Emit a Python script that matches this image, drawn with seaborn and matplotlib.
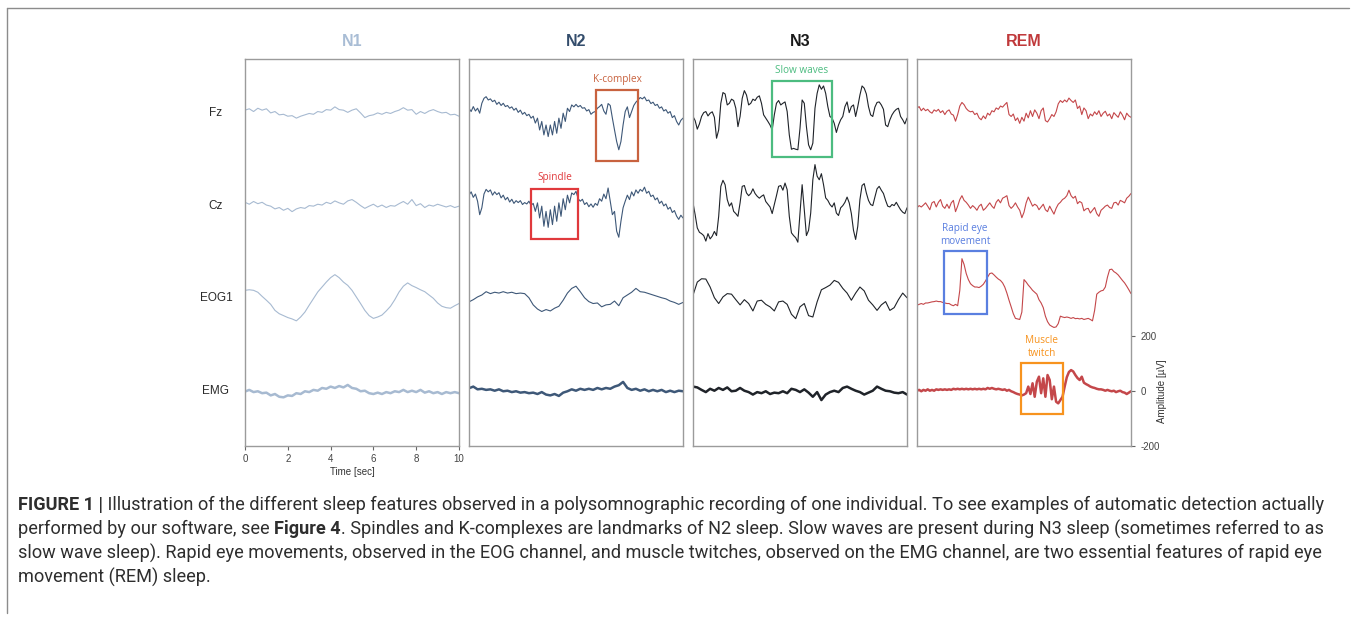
import numpy as np
import matplotlib
matplotlib.use("Agg")
import matplotlib.pyplot as plt
from matplotlib.patches import Rectangle
from matplotlib.lines import Line2D
import seaborn as sns

# Stages, channels and axis ticks
stages = ["N1", "N2", "N3", "REM"]
channels = ["Fz", "Cz", "EOG1", "EMG"]
offsets = [1011, 674, 337, 0]          # baseline of each channel (µV)
time_ticks = [0, 2, 4, 6, 8, 10]
amp_ticks = [-200, 0, 200]

# Traces, µV around each channel baseline (0-10 s)
n1_fz = [10, 15, 5, 17, 10, 15, 0, 5, -7, -5, -12, -10, -19, -12, -7, -2, -5, 5, 2, 12,
         10, 22, 12, 10, 2, 10, 15, 0, -17, -10, -7, 0, -5, 2, -2, 5, 10, 19, 10, 12,
         -5, 5, -2, 7, 12, 5, 0, 2, -7, -5, -12]
n1_cz = [12, 5, 15, 7, 12, 2, -2, -12, -7, -17, -10, -22, -12, -7, -10, 0, -2, 5, 2, 12,
         7, 17, 10, 5, 17, 22, 12, 0, -10, -2, 5, -5, 2, -7, 0, -2, 7, 15, 5, 22,
         0, 7, -7, 2, -2, 5, 0, -5, 0, -7, -2]
n1_eog = [29, 31, 29, 22, 7, -7, -22, -44, -56, -63, -70, -75, -82, -68, -50, -25, -1, 23, 41, 59,
          75, 86, 75, 59, 47, 29, 5, -19, -44, -63, -73, -68, -61, -46, -29, -5, 23, 44, 56, 46,
          39, 31, 24, 12, 0, -17, -29, -34, -36, -27, -19]
n1_emg = [-2, 4, -4, -1, -8, -6, -16, -11, -21, -23, -16, -18, -8, -11, -1, -4, 4, 1, 11, 8,
          16, 11, 18, 13, 22, 11, 8, -1, 1, -8, -11, -6, -11, -4, -8, -1, -4, 4, -4, 1,
          -4, 4, -6, -1, -8, -4, -11, -4, -8, -4, -8]

n2_fz = [17, 5, 23, 7, 17, -1, 35, 53, 59, 47, 51, 41, 46, 31, 39, 27, 35, 23, 27, 17,
         22, 10, 17, 2, 10, -5, 2, -10, -5, -19, -12, -37, -19, -62, -31, -80, -44, -86, -44, -80,
         -31, -74, -19, -56, -1, -31, 17, 5, 29, 22, 31, 22, 27, 17, 19, 7, 12, -5, 2, 5,
         17, 23, 31, 7, -5, 34, 27, -19, -62, -104, -134, -104, -44, 5, 22, -17, 5, 27, 39, 47,
         56, 51, 58, 44, 47, 34, 39, 27, 31, 17, 22, 7, 12, -1, 5, -17, -10, -31, -44, -27, -19]
n2_cz = [38, 50, 30, 42, 16, -33, -8, 42, 59, 50, 57, 38, 50, 40, 47, 28, 38, 21, 30, 13,
         23, 8, 18, 11, 18, 4, 11, 6, 16, 1, 8, -21, 10, -45, -2, -75, -21, -79, -15, -69,
         -2, -57, 10, -39, 25, -15, 38, 10, 46, 40, 52, 25, 16, 23, 4, 11, -4, 6, -6, 8,
         1, 25, 16, 42, 25, 64, 16, -33, -21, -93, -115, -57, -8, 16, 38, 22, 50, 35, 57, 45,
         59, 52, 67, 45, 52, 33, 38, 21, 28, 8, 16, -1, 6, -13, -6, -25, -18, -38, -50, -35, -45]
n2_eog = [-13, -5, 5, 12, 24, 17, 22, 19, 24, 19, 22, 17, 19, 17, 2, -24, -39, -48, -41, -46,
          -36, -29, -7, 19, 36, 44, 24, 2, -12, -19, -17, -31, -24, -22, -10, -27, 2, 12, 22, 36,
          24, 22, 17, 12, 7, 2, -2, -10, -15, -22, -15]
n2_emg = [10, 16, 6, 8, 4, 6, 1, 6, -1, 1, -4, -1, -6, -4, -8, -6, -11, -4, -13, -16,
          -11, -18, -6, -1, 6, 1, 8, 4, 8, 4, 11, 6, 11, 8, 16, 21, 33, 11, 4, 8,
          1, 6, -1, 4, -1, 4, -4, 1, -4, 1, -1]

n3_fz = [-13, -28, -59, -40, -13, 1, 5, -11, -1, 4, -16, -92, -62, 35, 74, 69, 29, 35, 50, 45,
         17, -50, -13, 53, 81, 65, 29, 35, 50, 45, 57, 62, 35, -7, -19, -31, -44, -62, -7, 35,
         45, 29, 35, 40, 5, -80, -132, -129, -132, -134, -56, 47, 35, -50, -116, -134, -110, 17, 71, 102,
         86, 98, 71, 23, -13, -19, -38, -71, -44, -25, -13, 23, 40, 1, 23, 29, -13, 23, 65, 98,
         90, 69, 23, -7, -13, 21, 38, 40, 29, 13, -44, -50, -25, -7, 5, 13, 17, -13, -25, -40, -19]
n3_cz = [10, -33, -81, -97, -102, -109, -129, -102, -121, -111, -94, -109, -39, 70, 92, 76, 22, -2, 10, -21,
         -29, -39, 10, 70, 73, 46, 36, 44, 61, 44, 34, 27, 34, 39, 15, 5, -5, -29, 4, 36,
         70, 73, 56, 82, 58, -39, -99, -109, -117, -133, -27, 76, -15, -109, -90, -27, 94, 149, 107, 94,
         116, 76, 28, 19, 4, -5, 10, -27, -36, -8, 0, 12, 31, 10, -29, -90, -123, -75, 22, 73,
         80, 46, 19, 4, 0, 31, 61, 70, 56, 44, 19, -2, -5, 4, 0, 12, -2, -15, -24, -29, -8]
n3_eog = [11, 59, 71, 70, 41, 2, -19, 5, 17, 15, -5, -24, -5, -19, -46, -10, -7, -22, -31, -46,
          -13, -10, -22, -58, -74, -31, -19, -63, -68, -13, 31, 39, 48, 65, 58, 36, 19, -7, 19, 41,
          27, -7, -24, -44, -24, -12, -44, -34, -5, 19, 2]
n3_emg = [16, 13, 4, -4, 8, 1, 11, 4, 13, -1, 1, 11, 1, -4, -13, -4, -8, -1, -11, -6,
          -8, -1, -8, 8, 4, -4, 6, -6, -21, -4, -33, -13, -4, 1, -4, 11, 16, 8, 1, -4,
          -13, -6, 1, 16, 8, 1, -1, -6, -8, -4, -13]

rem_fz = [17, 23, 8, 17, 8, 13, 4, -1, 11, 6, 13, 1, 8, -6, 6, 11, -4, -8, -30, -6,
          25, 38, 30, 16, 8, 4, 6, -6, -1, -18, -25, -11, -21, -1, -8, 8, 4, 18, 13, 25,
          21, 30, 38, -6, -13, -4, -28, -18, -38, -16, -30, -1, -18, 8, -13, 11, -1, -21, 8, 18,
          -28, -33, -21, -6, -13, 4, 33, 45, 38, 47, 40, 54, 45, 38, 47, 16, 25, -6, 18, 8,
          -21, -4, -11, 4, -6, 8, -13, -1, 6, -11, -4, -21, 1, -8, -16, 4, -8, -25, -1, -11, -16]
rem_cz = [-8, 0, -5, 2, 10, -2, -15, 10, 15, -5, 12, 22, -2, -10, 5, -10, 10, 19, -22, -2,
          22, 36, 19, 12, 2, -10, 0, -7, -17, -2, 5, -17, -10, 0, 10, -2, -10, 12, 22, 10,
          27, 31, 36, 0, -10, -2, 10, -5, -17, -44, -24, 10, 31, 15, -2, 5, 0, -15, -5, 5,
          -15, -22, -2, -17, -31, -10, 5, 12, 22, 27, 36, 56, 36, 27, 34, 7, 15, 10, -19, -12,
          -10, -27, -17, -7, -29, -39, -17, -10, -2, 2, -7, -10, 10, 12, 2, 19, 15, 10, 27, 34, 44]
rem_eog = [-25, -22, -19, -22, -17, -17, -15, -13, -12, -10, -12, -12, -15, -17, -19, -19, -24, -27, -22, -27,
           29, 144, 123, 90, 68, 53, 46, 41, 41, 39, 44, 51, 63, 77, 90, 92, 85, 77, 70, 65,
           56, 41, 19, -7, -31, -56, -73, -75, -77, -50, 68, 59, 48, 39, 29, 22, 15, -5, -17, -34,
           -65, -85, -97, -102, -106, -104, -92, -65, -68, -70, -68, -70, -73, -70, -74, -73, -75, -73, -77, -75,
           -73, -77, -82, -44, 15, 22, 27, 29, 41, 77, 104, 106, 97, 92, 85, 75, 65, 56, 44, 31, 17]
rem_emg = [1, 4, -1, 4, 1, 6, 1, 4, 1, 6, 4, 6, 4, 6, 4, 6, 4, 8, 6, 8,
           6, 8, 6, 8, 6, 8, 6, 8, 6, 8, 6, 8, 6, 11, 8, 11, 8, 6, 8, 6,
           4, 6, 1, 4, -1, -4, -8, -11, -13, -16, -13, -8, 16, -11, 28, -21, 34, 52, -8, 46,
           -21, 58, 40, -30, 16, -39, -45, -33, -21, 16, 50, 69, 76, 71, 58, 47, 40, 52, 30, 25,
           21, 16, 13, 11, 8, 6, 6, 4, 1, 4, 1, -1, 1, -4, -1, 1, -4, -6, -11, -6, -1]

traces = {
    "N1": [n1_fz, n1_cz, n1_eog, n1_emg],
    "N2": [n2_fz, n2_cz, n2_eog, n2_emg],
    "N3": [n3_fz, n3_cz, n3_eog, n3_emg],
    "REM": [rem_fz, rem_cz, rem_eog, rem_emg],
}

# Styles
colores = {"N1": "#a7bad1", "N2": "#3e5878", "N3": "#1f2329", "REM": "#c4474a"}
titulo_col = {"N1": "#a9bdd5", "N2": "#344d6c", "N3": "#1a1a1a", "REM": "#c0393b"}
grosor = [0.8, 0.8, 0.8, 1.8]

# Annotation boxes: (stage, label, t0, t1, v_low, v_high, color, text_t, text_v)
cajas = [
    ("N2", "K-complex", 5.93, 7.90, 836, 1095, "#c8623f", 6.92, 1134),
    ("N2", "Spindle", 2.90, 5.09, 553, 735, "#e0393c", 4.02, 775),
    ("N3", "Slow waves", 3.69, 6.50, 851, 1127, "#4cbc80", 5.09, 1164),
    ("REM", "Rapid eye\nmovement", 1.26, 3.27, 280, 509, "#5a7fe0", 2.24, 567),
    ("REM", "Muscle\ntwitch", 4.86, 6.82, -84, 102, "#f7931e", 5.84, 160),
]

sns.set_theme(style="white")
plt.rcParams["font.family"] = ["Liberation Sans", "DejaVu Sans"]
plt.rcParams["axes.unicode_minus"] = False

W, H = 1355, 621
fig = plt.figure(figsize=(W / 100, H / 100), dpi=100)


def fx(px):
    return px / W


def fy(py):
    return 1 - py / H


izq = [245, 469, 693, 917]
ancho, arriba, abajo = 214, 59, 446
ejes = {}

for i, st in enumerate(stages):
    ax = fig.add_axes([fx(izq[i]), fy(abajo), ancho / W, (abajo - arriba) / H])
    ejes[st] = ax
    for j, ch in enumerate(channels):
        vals = np.array(traces[st][j]) + offsets[j]
        t = np.linspace(0, 10, len(vals))
        sns.lineplot(x=t, y=vals, ax=ax, color=colores[st], linewidth=grosor[j],
                     estimator=None, sort=False)
    ax.set_xlim(0, 10)
    ax.set_ylim(-200, 1207)
    for s in ax.spines.values():
        s.set_color("#9b9b9b")
        s.set_linewidth(1.0)
    ax.set_xlabel("")
    ax.set_ylabel("")
    ax.set_title(st, color=titulo_col[st], fontweight="bold", fontsize=11.5, pad=9)
    ax.set_xticks([])
    ax.set_yticks([])

# time axis on N1
ax = ejes["N1"]
ax.set_xticks(time_ticks)
ax.tick_params(axis="x", bottom=True, length=3, width=0.8, color="#666666",
               labelsize=7, labelcolor="#444444", pad=3)
ax.set_xlabel("Time [sec]", fontsize=7, color="#333333", labelpad=2)
for j, ch in enumerate(channels):
    ax.text(-1.36, offsets[j], ch, ha="center", va="center", fontsize=8.5,
            color="#2b2b2b", clip_on=False)

# amplitude axis on REM
ax = ejes["REM"]
ax.yaxis.tick_right()
ax.set_yticks(amp_ticks)
ax.tick_params(axis="y", right=True, length=3, width=0.8, color="#666666",
               labelsize=7, labelcolor="#444444", pad=4)
ax.text(11.45, 0, "Amplitude [µV]", rotation=90, ha="center", va="center",
        fontsize=7, color="#333333", clip_on=False)

# annotations
for st, txt, t0, t1, v0, v1, col, tx, tv in cajas:
    ax = ejes[st]
    ax.add_patch(Rectangle((t0, v0), t1 - t0, v1 - v0, fill=False, edgecolor=col,
                           linewidth=1.6, zorder=5))
    ax.text(tx, tv, txt, ha="center", va="center", color=col, fontsize=7.2,
            family=["Open Sans", "DejaVu Sans"], linespacing=1.25, zorder=6)

# outer frame
borde = "#8c8c8c"
fig.add_artist(Line2D([fx(7), fx(1349)], [fy(8), fy(8)], color=borde, lw=1))
fig.add_artist(Line2D([fx(7), fx(7)], [fy(8), fy(613)], color=borde, lw=1))

# caption with bold runs
renderer = fig.canvas.get_renderer()
lineas = [
    [("FIGURE 1 |", "bold"), (" Illustration of the different sleep features observed in a polysomnographic recording of one individual. To see examples of automatic detection actually", "normal")],
    [("performed by our software, see ", "normal"), ("Figure 4", "bold"), (". Spindles and K-complexes are landmarks of N2 sleep. Slow waves are present during N3 sleep (sometimes referred to as", "normal")],
    [("slow wave sleep). Rapid eye movements, observed in the EOG channel, and muscle twitches, observed on the EMG channel, are two essential features of rapid eye", "normal")],
    [("movement (REM) sleep.", "normal")],
]
y_lin = [505, 529, 553, 577]
for runs, yl in zip(lineas, y_lin):
    x = fx(18)
    for txt, w in runs:
        tt = fig.text(x, fy(yl), txt, fontsize=13.1, fontweight=w, color="#2e2e2e",
                      ha="left", va="center", family=["Roboto", "DejaVu Sans"])
        bb = tt.get_window_extent(renderer=renderer)
        x = bb.x1 / W

fig.savefig("out.png", dpi=100)
